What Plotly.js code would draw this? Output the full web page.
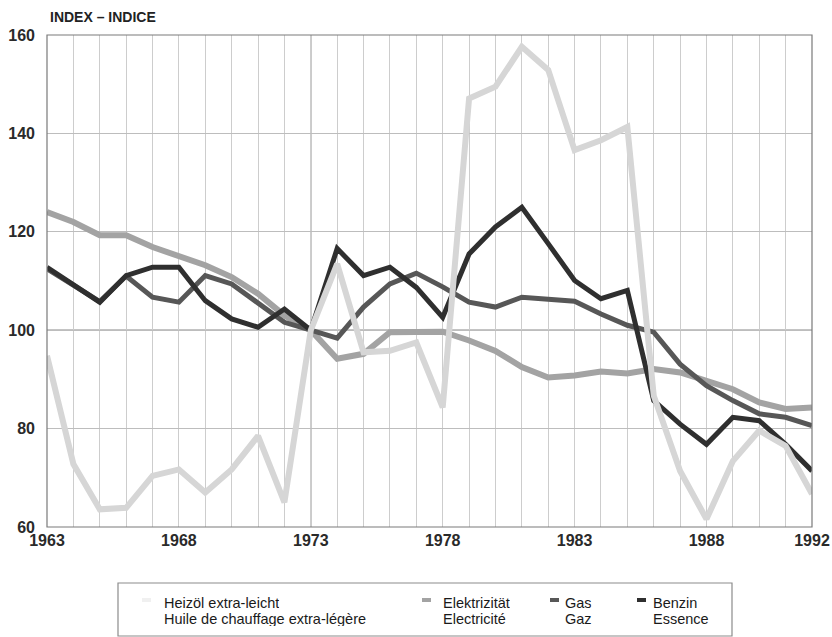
<!DOCTYPE html>
<html>
<head>
<meta charset="utf-8">
<script src="https://cdn.plot.ly/plotly-3.0.1.min.js"></script>
<style>
html,body{margin:0;padding:0;background:#fff;}
#chart{width:832px;height:637px;}
</style>
</head>
<body>
<div id="chart"></div>
<script>
// ---- data ----
const years = [1963,1964,1965,1966,1967,1968,1969,1970,1971,1972,1973,1974,1975,1976,1977,1978,1979,1980,1981,1982,1983,1984,1985,1986,1987,1988,1989,1990,1991,1992];
const heizoel = [94.8,72.8,63.6,63.9,70.4,71.7,67,71.7,78.5,65,100,113.5,95.5,95.8,97.5,84.3,147.1,149.5,157.6,152.9,136.6,138.6,141.3,86.7,71.4,61.6,73.4,79.6,76.5,66.7];
const elektrizitaet = [124,122,119.3,119.3,116.9,114.9,113.2,110.8,107.4,103,100,94.2,95.2,99.6,99.8,99.7,97.9,95.8,92.5,90.4,90.8,91.6,91.2,92.1,91.4,89.7,88,85.3,84,84.3];
const gas = [112.5,109.2,105.8,111,106.7,105.7,111.1,109.4,105.6,101.6,100,98.4,104.7,109.4,111.6,108.8,105.7,104.7,106.7,106.4,105.9,103.3,101,99.6,93.1,88.7,85.7,83,82.3,80.6];
const benzin = [112.8,109.3,105.7,111.1,112.8,112.8,106,102.3,100.6,104.3,100,116.6,111.1,112.8,108.7,102.6,115.5,121,125,117.6,110.1,106.4,108.1,85.7,80.9,76.8,82.3,81.6,76.8,71.4];
const labeledYears = [1963,1968,1973,1978,1983,1988,1992];
const yTicks = [60,80,100,120,140,160];
const baseYear = 1973;
const baseIndex = 100;
const namesDE = ["Heizöl extra-leicht","Elektrizität","Gas","Benzin"];
const namesFR = ["Huile de chauffage extra-légère","Electricité","Gaz","Essence"];
const yTitle = "INDEX – INDICE";

// ---- styling ----
const colors = ["#d6d6d6","#a3a3a3","#575757","#2f2f2f"];
const widths = [6,6,5,5];
const FONT = "Liberation Sans, Arial, Helvetica, sans-serif";

const series = [heizoel, elektrizitaet, gas, benzin];
const drawOrder = [1,2,3,0];
const traces = drawOrder.map(i => ({
  x: years, y: series[i], type: 'scatter', mode: 'lines',
  name: namesDE[i] + ' / ' + namesFR[i],
  line: {color: colors[i], width: widths[i], shape: 'linear'},
  showlegend: false, hoverinfo: 'skip'
}));

// legend (manual, as in the original figure)
const legX = [162, 441, 563, 651];
const symX = [142, 422, 550, 637];
const annotations = [
  {text: yTitle, xref:'paper', yref:'paper', x:0, y:1, xshift:1, yshift:18,
   xanchor:'left', yanchor:'middle', showarrow:false,
   font:{family:FONT, size:14, color:'#222', weight:'bold'}}
];
const shapes = [
  {type:'line', xref:'x', yref:'paper', x0:baseYear, x1:baseYear, y0:0, y1:1, line:{color:'#8a8a8a', width:1.3}, layer:'below'},
  {type:'line', xref:'paper', yref:'y', x0:0, x1:1, y0:baseIndex, y1:baseIndex, line:{color:'#8a8a8a', width:1.3}, layer:'below'},
  {type:'rect', xref:'paper', yref:'paper', x0:0, x1:1, y0:0, y1:1, line:{color:'#7a7a7a', width:1.2}, layer:'above'}
];
// paper coordinate conversions
const L=47, R=20, T=35, B=110, W=832, H=637;
const pw = W-L-R, ph = H-T-B;
const px = x => (x-L)/pw;
const py = y => (H-B-y)/ph;
// legend box
shapes.push({type:'rect', xref:'paper', yref:'paper', x0:px(118), x1:px(732), y0:py(636), y1:py(583), line:{color:'#8c8c8c', width:1.2}, layer:'above'});
for (let i=0;i<4;i++){
  annotations.push({text:namesDE[i], xref:'paper', yref:'paper', x:px(legX[i]), y:py(602), xanchor:'left', yanchor:'middle', showarrow:false, height:15, font:{family:FONT, size:14.5, color:'#1a1a1a'}});
  annotations.push({text:namesFR[i], xref:'paper', yref:'paper', x:px(legX[i]), y:py(618), xanchor:'left', yanchor:'middle', showarrow:false, height:15, font:{family:FONT, size:14.5, color:'#1a1a1a'}});
  shapes.push({type:'rect', xref:'paper', yref:'paper', x0:px(symX[i]), x1:px(symX[i]+9), y0:py(602), y1:py(598), line:{width:0}, fillcolor: i===0 ? '#f0f0f0' : colors[i], layer:'above'});
}

const layout = {
  width: W, height: H,
  margin: {l:L, r:R, t:T, b:B, pad:0},
  paper_bgcolor:'#fff', plot_bgcolor:'#fff',
  showlegend:false,
  font:{family:FONT, color:'#222'},
  xaxis: {
    range:[1963,1992], tickmode:'array', tickvals: years,
    ticktext: years.map(y => labeledYears.includes(y) ? String(y) : ''),
    showgrid:true, gridcolor:'#cdcdcd', gridwidth:1,
    zeroline:false, showline:false, ticks:'', ticklabelstandoff:2,
    tickfont:{family:FONT, size:16, color:'#2a2a2a', weight:'bold'}
  },
  yaxis: {
    range:[60,160], tickmode:'array', tickvals: yTicks,
    showgrid:true, gridcolor:'#bdbdbd', gridwidth:1,
    zeroline:false, showline:false, ticks:'', ticklabelstandoff:11,
    tickfont:{family:FONT, size:16, color:'#2a2a2a', weight:'bold'}
  },
  shapes: shapes,
  annotations: annotations
};

Plotly.newPlot('chart', traces, layout, {staticPlot:true, displayModeBar:false});
</script>
</body>
</html>
